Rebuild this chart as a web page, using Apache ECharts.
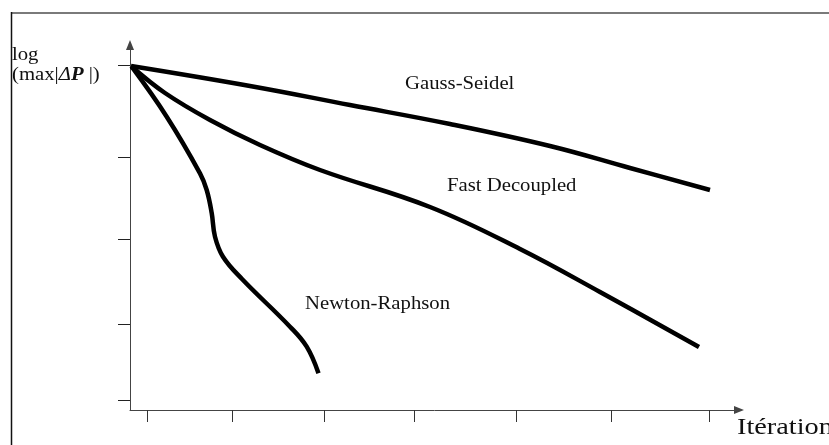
<!DOCTYPE html>
<html>
<head>
<meta charset="utf-8">
<script src="https://cdn.jsdelivr.net/npm/echarts@6/dist/echarts.min.js"></script>
<style>html,body{margin:0;padding:0;background:#fff;}#c{width:829px;height:445px;}</style>
</head>
<body>
<div id="c"></div>
<script>
// Axis units: x = iteration position, y = log(max|ΔP|) (schematic units)
const xTicks = [17, 102, 194, 284, 386, 481, 579];
const yTicks = [10, 86, 171, 253, 345];

const gaussX = [1, 120, 220, 320, 420, 500, 580];
const gaussY = [344, 324, 305, 286, 264, 242, 220];

const fastX = [1, 35, 80, 130, 190, 300, 390, 470, 569];
const fastY = [344, 317, 290, 265, 240, 203, 161, 118, 63];

const newtonX = [1.7, 36.7, 70, 76.7, 81.7, 85, 93, 112, 160, 176.7, 188.5];
const newtonY = [343.3, 293.3, 236.7, 220, 197, 173.3, 153.3, 131, 83.3, 63.3, 36.7];

const seriesNames = ['Gauss-Seidel', 'Fast Decoupled', 'Newton-Raphson'];
const yLabelLine1 = 'log';
const xAxisName = 'Itération';

const zip = (xs, ys) => xs.map((x, i) => [x, ys[i]]);
const FONT = '"Liberation Serif", "Times New Roman", serif';

const chart = echarts.init(document.getElementById('c'), null, {renderer: 'canvas'});

function lineSeries(name, xs, ys) {
  return {
    name: name,
    type: 'line',
    data: zip(xs, ys),
    smooth: 0.4,
    showSymbol: false,
    symbol: 'none',
    lineStyle: {color: '#000', width: 4.5},
    animation: false
  };
}

function label(text, x, y, size, sx, rich) {
  return {
    type: 'text',
    x: x, y: y, scaleX: sx, scaleY: 1,
    style: {
      text: text, x: 0, y: 0,
      font: size + 'px ' + FONT,
      fill: '#111',
      align: 'left',
      verticalAlign: 'middle',
      rich: rich
    }
  };
}

const option = {
  backgroundColor: '#fff',
  animation: false,
  grid: {left: 130, top: 45, width: 609, height: 365, containLabel: false, outerBoundsMode: 'none'},
  xAxis: {
    type: 'value', min: 0, max: 609,
    axisLine: {show: true, symbol: ['none', 'triangle'], symbolSize: [8, 10], lineStyle: {color: '#444', width: 1}},
    axisTick: {show: true, customValues: xTicks, length: 12, lineStyle: {color: '#333', width: 1}},
    axisLabel: {show: false},
    splitLine: {show: false}
  },
  yAxis: {
    type: 'value', min: 0, max: 365,
    axisLine: {show: true, symbol: ['none', 'triangle'], symbolSize: [8, 10], lineStyle: {color: '#444', width: 1}},
    axisTick: {show: true, customValues: yTicks, length: 12, lineStyle: {color: '#222', width: 1}},
    axisLabel: {show: false},
    splitLine: {show: false}
  },
  series: [
    lineSeries(seriesNames[0], gaussX, gaussY),
    lineSeries(seriesNames[1], fastX, fastY),
    lineSeries(seriesNames[2], newtonX, newtonY)
  ],
  graphic: [
    {type: 'line', shape: {x1: 11, y1: 13, x2: 829, y2: 13}, style: {stroke: '#7a7a7a', lineWidth: 2}},
    {type: 'line', shape: {x1: 11.5, y1: 12, x2: 11.5, y2: 445}, style: {stroke: '#111', lineWidth: 1.5}},
    label(seriesNames[0], 405, 84.5, 18.5, 1.12),
    label(seriesNames[1], 447, 186.5, 18.5, 1.12),
    label(seriesNames[2], 305, 304.5, 18.5, 1.12),
    label(yLabelLine1, 12, 55, 18.5, 1.12),
    label('{a|(max|}{b|Δ}{c|P}{a| |)}', 12, 75, 18.5, 1.12, {
      a: {font: '18.5px ' + FONT, fill: '#111'},
      b: {font: 'italic 18.5px ' + FONT, fill: '#111'},
      c: {font: 'italic bold 18.5px ' + FONT, fill: '#111'}
    }),
    label(xAxisName, 737, 428, 24, 1.18)
  ]
};
chart.setOption(option);
</script>
</body>
</html>
